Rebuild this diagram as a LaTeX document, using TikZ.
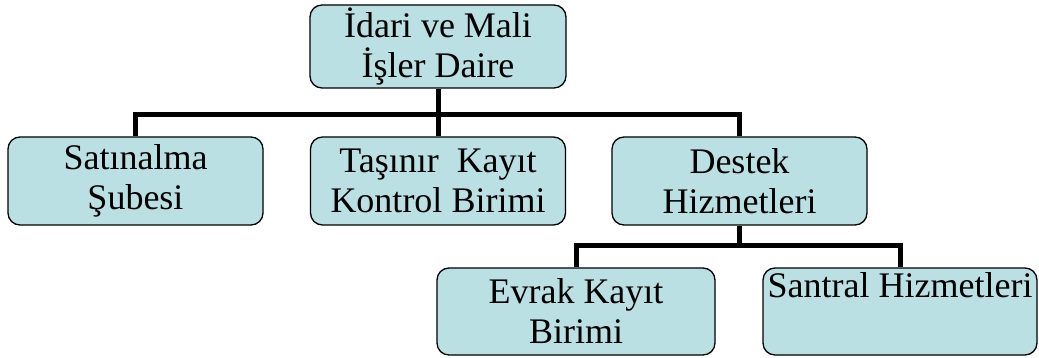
\documentclass[tikz,border=0pt]{standalone}
\usepackage{fontspec}
\setmainfont{Liberation Serif}
\usepackage{xcolor}
\usepackage{tikz}
\usetikzlibrary{positioning}
\tikzset{c-box/.style={rectangle, rounded corners=12pt, minimum width=255pt, minimum height=88pt, inner sep=2pt, align=center, draw=black, line width=1.3pt, fill=c_unit, font=\fontsize{36}{40}\selectfont},
link/.style={line width=5pt}}
\definecolor{c_unit}{RGB}{187,224,227}

\begin{document}
\begin{tikzpicture}[x=1pt, y=-1pt, node distance=134.5pt]
\useasboundingbox (0,0) rectangle (1039,358);
\node (n0) [c-box, minimum width=256pt, minimum height=83pt] at (438,46.5) {
İdari ve Mali\\
İşler Daire
};
\node (n1) [c-box, below of=n0, xshift=-302.5pt] {
Satınalma\\
Şubesi
};
\node (n2) [c-box, below of=n0] {
Taşınır~ Kayıt\\
Kontrol Birimi
};
\node (n3) [c-box, below of=n0, xshift=301.5pt] {
Destek\\
Hizmetleri
};
\node (n4) [c-box, below of=n3, node distance=130.5pt, xshift=-163.5pt, minimum width=278pt, minimum height=87pt] {
Evrak Kayıt\\
Birimi
};
\node (n5) [c-box, below of=n3, node distance=130.5pt, xshift=160.5pt, minimum width=274pt, minimum height=87pt] {
Santral Hizmetleri\\
\strut
};
\coordinate (bus) at (438,115);
\coordinate (subbus) at (739.5,246);
\draw [link] (n0.south) -- (n2.north);
\draw [link] (n1.north) |- (bus) -| (n3.north);
\draw [link] (n3.south) -- (subbus);
\draw [link] (n4.north) |- (subbus) -| (n5.north);
\end{tikzpicture}
\end{document}
